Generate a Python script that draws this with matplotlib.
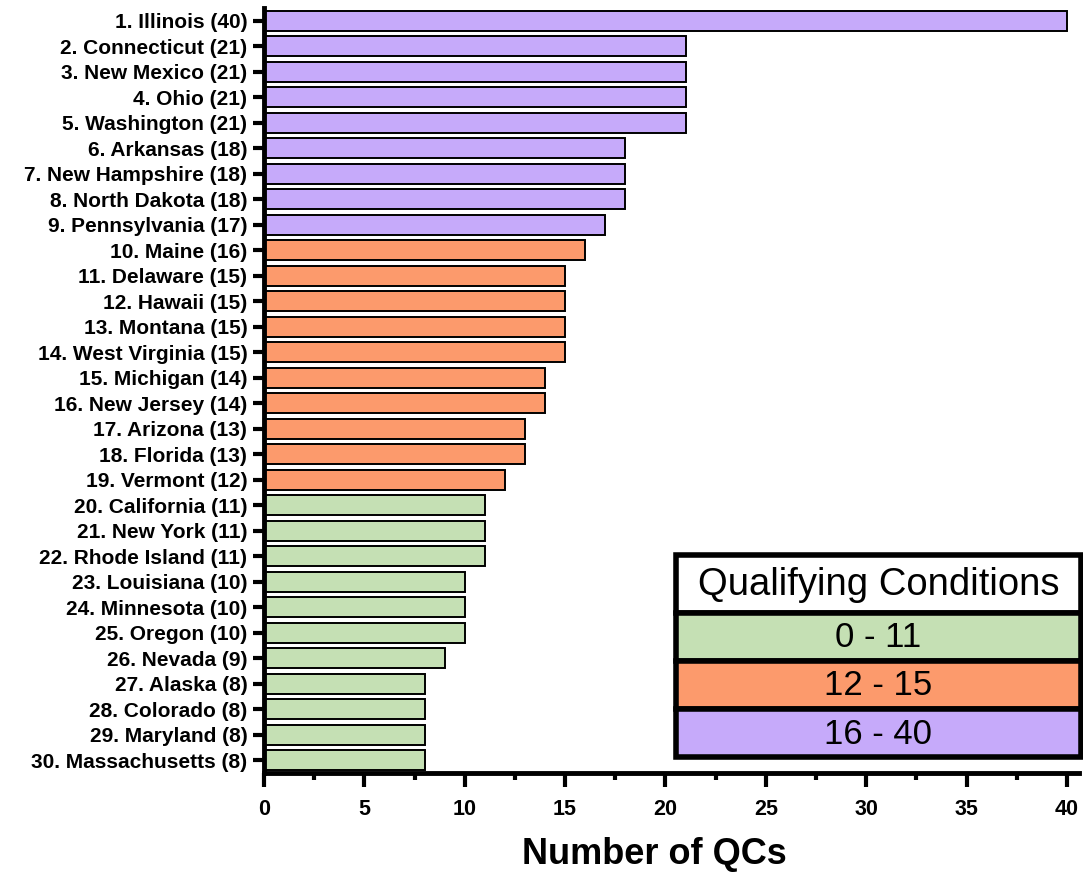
import matplotlib.pyplot as plt
from matplotlib.patches import Rectangle
from matplotlib.ticker import MultipleLocator

states = ["Illinois", "Connecticut", "New Mexico", "Ohio", "Washington", "Arkansas",
          "New Hampshire", "North Dakota", "Pennsylvania", "Maine", "Delaware", "Hawaii",
          "Montana", "West Virginia", "Michigan", "New Jersey", "Arizona", "Florida",
          "Vermont", "California", "New York", "Rhode Island", "Louisiana", "Minnesota",
          "Oregon", "Nevada", "Alaska", "Colorado", "Maryland", "Massachusetts"]
qcs = [40, 21, 21, 21, 21, 18, 18, 18, 17, 16, 15, 15, 15, 15, 14, 14, 13, 13,
       12, 11, 11, 11, 10, 10, 10, 9, 8, 8, 8, 8]
# colour group of each bar as drawn in the original (0 = green, 1 = orange, 2 = purple)
group_idx = [2] * 9 + [1] * 10 + [0] * 11
groups = ["0 - 11", "12 - 15", "16 - 40"]
group_colors = ["#c5e0b4", "#fc9a6c", "#c6aafa"]

plt.rcParams['font.family'] = ['Liberation Sans', 'DejaVu Sans']

fig = plt.figure(figsize=(10.83, 8.73), dpi=100)
ax = fig.add_axes([264 / 1083, 100 / 873, (1079 - 264) / 1083, (865 - 100) / 873])

labels = [f"{i + 1}. {s} ({v})" for i, (s, v) in enumerate(zip(states, qcs))]
pos = list(range(len(states)))
ax.barh(pos, qcs, height=0.78, color=[group_colors[g] for g in group_idx],
        edgecolor="black", linewidth=1.4)
ax.set_yticks(pos)
ax.set_yticklabels(labels, fontsize=15, fontweight="bold")
ax.set_ylim(29.5, -0.5)
ax.set_xlim(0, 40.6)
ax.xaxis.set_major_locator(MultipleLocator(5))
ax.xaxis.set_minor_locator(MultipleLocator(2.5))
for lab in ax.get_xticklabels():
	lab.set_fontweight("bold")
ax.tick_params(axis="x", labelsize=15.5, length=10, width=3, pad=9)
ax.tick_params(axis="x", which="minor", length=5, width=3)
ax.tick_params(axis="y", length=8, width=3, pad=4)
for side in ["top", "right"]:
	ax.spines[side].set_visible(False)
for side in ["left", "bottom"]:
	ax.spines[side].set_linewidth(3.5)
ax.set_xlabel("Number of QCs", fontsize=26, fontweight="bold", va="center")
ax.xaxis.set_label_coords(0.479, -0.107)

# legend box
lax = fig.add_axes([676 / 1083, 111 / 873, (1081 - 676) / 1083, (318 - 111) / 873])
lax.set_xlim(0, 1)
lax.set_ylim(0, 4.3)
lax.axis("off")
rows = [("Qualifying Conditions", "white", 1.2)] + [(g, c, 1.0) for g, c in zip(groups, group_colors)]
y = 4.3
for text, col, h in rows:
	y -= h
	lax.add_patch(Rectangle((0, y), 1, h, facecolor=col, edgecolor="black",
	                        linewidth=4, clip_on=False))
	lax.text(0.5, y + h / 2 - 0.02, text, ha="center", va="center",
	         fontsize=27.5 if h > 1 else 25)

fig.savefig("out.png", dpi=100)
